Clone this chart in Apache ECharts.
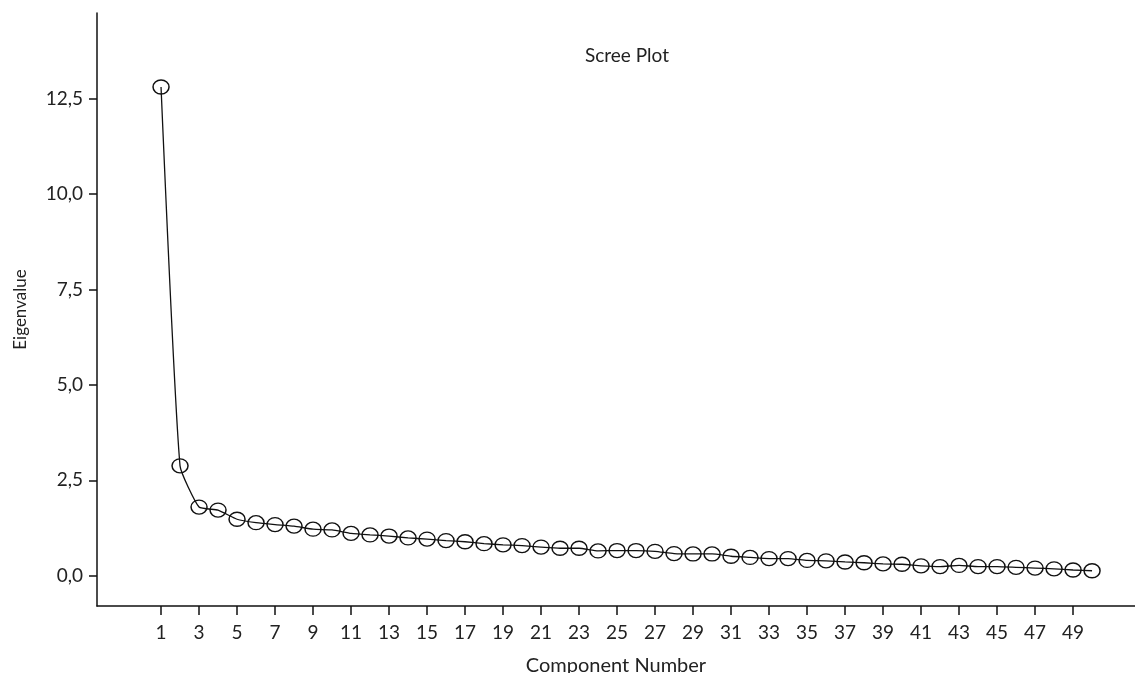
<!DOCTYPE html>
<html><head><meta charset="utf-8">
<script src="https://cdn.jsdelivr.net/npm/echarts@6/dist/echarts.min.js"></script>
<style>html,body{margin:0;padding:0;background:#fff}#c{width:1135px;height:673px}</style>
</head><body><div id="c"></div>
<script>
const components = [];
for (let i = 1; i <= 50; i++) components.push(i);
const eigenvalues = [12.81, 2.88, 1.80, 1.72, 1.48, 1.39, 1.34, 1.30, 1.22, 1.20,
  1.11, 1.07, 1.04, 0.99, 0.96, 0.92, 0.89, 0.84, 0.81, 0.79,
  0.75, 0.72, 0.72, 0.65, 0.66, 0.66, 0.64, 0.58, 0.57, 0.57,
  0.51, 0.48, 0.45, 0.45, 0.40, 0.39, 0.36, 0.34, 0.31, 0.30,
  0.26, 0.24, 0.27, 0.24, 0.24, 0.22, 0.20, 0.18, 0.15, 0.13];
const xTicks = [1,3,5,7,9,11,13,15,17,19,21,23,25,27,29,31,33,35,37,39,41,43,45,47,49];
const yTicks = [0, 2.5, 5, 7.5, 10, 12.5];
const title = 'Scree Plot';
const xName = 'Component Number';
const yName = 'Eigenvalue';

const FONT = 'Lato';
const chart = echarts.init(document.getElementById('c'));
chart.setOption({
  animation: false,
  title: { text: title, left: 622, top: 41, textAlign: 'center',
    textStyle: { fontFamily: FONT, fontSize: 19, fontWeight: 'normal', color: '#222' } },
  grid: { left: 97, right: 0, top: 13, bottom: 67, containLabel: false, outerBoundsMode: 'none' },
  xAxis: {
    type: 'value', min: -2.37, max: 52.26,
    name: xName, nameLocation: 'middle', nameGap: 50,
    nameTextStyle: { fontFamily: FONT, fontSize: 20, color: '#222' },
    axisLine: { onZero: false, lineStyle: { color: '#111', width: 1.5 } },
    axisTick: { show: true, length: 9, customValues: xTicks, lineStyle: { color: '#111', width: 1.5 } },
    axisLabel: { customValues: xTicks, margin: 17, fontFamily: FONT, fontSize: 19, color: '#222' },
    splitLine: { show: false }
  },
  yAxis: {
    type: 'value', min: -0.794, max: 14.75,
    name: yName, nameLocation: 'middle', nameGap: 68, nameRotate: 90,
    nameTextStyle: { fontFamily: FONT, fontSize: 17, color: '#222' },
    axisLine: { show: true, onZero: false, lineStyle: { color: '#111', width: 1.5 } },
    axisTick: { show: true, length: 8, customValues: yTicks, lineStyle: { color: '#111', width: 1.5 } },
    axisLabel: { customValues: yTicks, margin: 14, fontFamily: FONT, fontSize: 19, color: '#222',
      formatter: v => v.toFixed(1).replace('.', ',') },
    splitLine: { show: false }
  },
  series: [{
    type: 'line',
    data: components.map((c, i) => [c, eigenvalues[i]]),
    smooth: 0.15,
    symbol: 'circle', symbolSize: [16, 14],
    lineStyle: { color: '#111', width: 1.3 },
    itemStyle: { color: 'rgba(0,0,0,0)', borderColor: '#111', borderWidth: 1.4 }
  }]
});
</script></body></html>
